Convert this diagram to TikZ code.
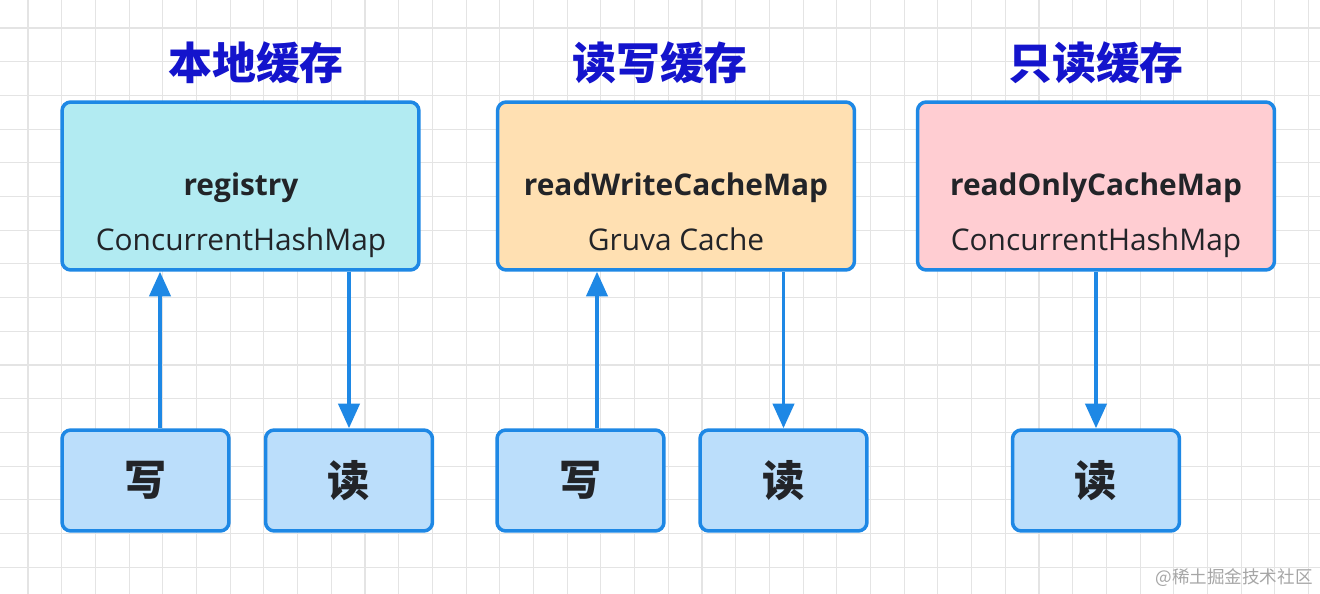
\documentclass[tikz,border=0pt]{standalone}
\usepackage{fontspec}
\setmainfont{Open Sans}
\newfontfamily\cjk{Noto Sans CJK SC}
\usepackage{tikz}
\usetikzlibrary{arrows.meta}
\definecolor{edgeblue}{HTML}{1E88E5}
\definecolor{titleblue}{HTML}{1414CC}
\definecolor{textdark}{HTML}{222428}
\definecolor{localfill}{HTML}{B2EBF2}
\definecolor{rwfill}{HTML}{FFE0B2}
\definecolor{rofill}{HTML}{FFCDD2}
\definecolor{opfill}{HTML}{BBDEFB}
\definecolor{gridgray}{HTML}{E4E4E4}

\begin{document}
\begin{tikzpicture}[x=0.02cm,y=-0.02cm,
  cachebox/.style={draw=edgeblue, line width=2pt, rounded corners=5pt,
    minimum width=7.14cm, minimum height=3.36cm},
  opbox/.style={draw=edgeblue, fill=opfill, line width=2pt, rounded corners=5pt,
    minimum width=3.34cm, minimum height=2.02cm, text=textdark,
    font=\cjk\bfseries\fontsize{24}{28}\selectfont},
  heading/.style={text=titleblue, font=\cjk\bfseries\fontsize{25}{30}\selectfont},
  mapname/.style={anchor=base, text=textdark, font=\bfseries\fontsize{17}{20}\selectfont},
  maptype/.style={anchor=base, text=textdark, font=\fontsize{17}{20}\selectfont},
  flow/.style={draw=edgeblue, line width=2.2pt, -{Triangle[length=14pt,width=12pt]}}]
  \useasboundingbox (0,0) rectangle (1320,594);
  \fill[white] (0,0) rectangle (1320,594);
  % background grid
  \foreach \i in {0,...,38}
    \draw[gridgray, line width=0.6pt] ({28+33.7*\i},0) -- ({28+33.7*\i},594);
  \foreach \j in {0,...,16}
    \draw[gridgray, line width=0.6pt] (0,{28+33.7*\j}) -- (1320,{28+33.7*\j});

  % headings
  \node[heading] (hlocal) at (256,63) {本地缓存};
  \node[heading] (hrw) at (660,63) {读写缓存};
  \node[heading] (hro) at (1096,63) {只读缓存};

  % cache boxes
  \node[cachebox, fill=localfill] (local) at (240.5,186) {};
  \node[cachebox, fill=rwfill] (rw) at (676,186) {};
  \node[cachebox, fill=rofill] (ro) at (1096,186) {};

  \node[mapname] (nlocal) at (241,196) {registry};
  \node[maptype] (tlocal) at (241,251) {ConcurrentHashMap};
  \node[mapname] (nrw) at (676,196) {readWriteCacheMap};
  \node[maptype] (trw) at (676,251) {Gruva Cache};
  \node[mapname] (nro) at (1096,196) {readOnlyCacheMap};
  \node[maptype] (tro) at (1096,251) {ConcurrentHashMap};

  % read / write boxes
  \node[opbox] (w1) at (145.5,480.5) {写};
  \node[opbox] (r1) at (349,480.5) {读};
  \node[opbox] (w2) at (580.5,480.5) {写};
  \node[opbox] (r2) at (783.5,480.5) {读};
  \node[opbox] (r3) at (1096,480.5) {读};

  % arrows
  \draw[flow] (w1.north) ++(14.5,0) coordinate (w1a) -- (w1a |- local.south);
  \draw[flow] (r1.north |- local.south) -- (r1.north);
  \draw[flow] (w2.north) ++(16.5,0) coordinate (w2a) -- (w2a |- rw.south);
  \draw[flow] (r2.north |- rw.south) -- (r2.north);
  \draw[flow] (r3.north |- ro.south) -- (r3.north);

  % source mark
  \node[text=gray!70, font=\cjk\fontsize{10}{12}\selectfont] (mark) at (1234,578) {@稀土掘金技术社区};
\end{tikzpicture}
\end{document}
